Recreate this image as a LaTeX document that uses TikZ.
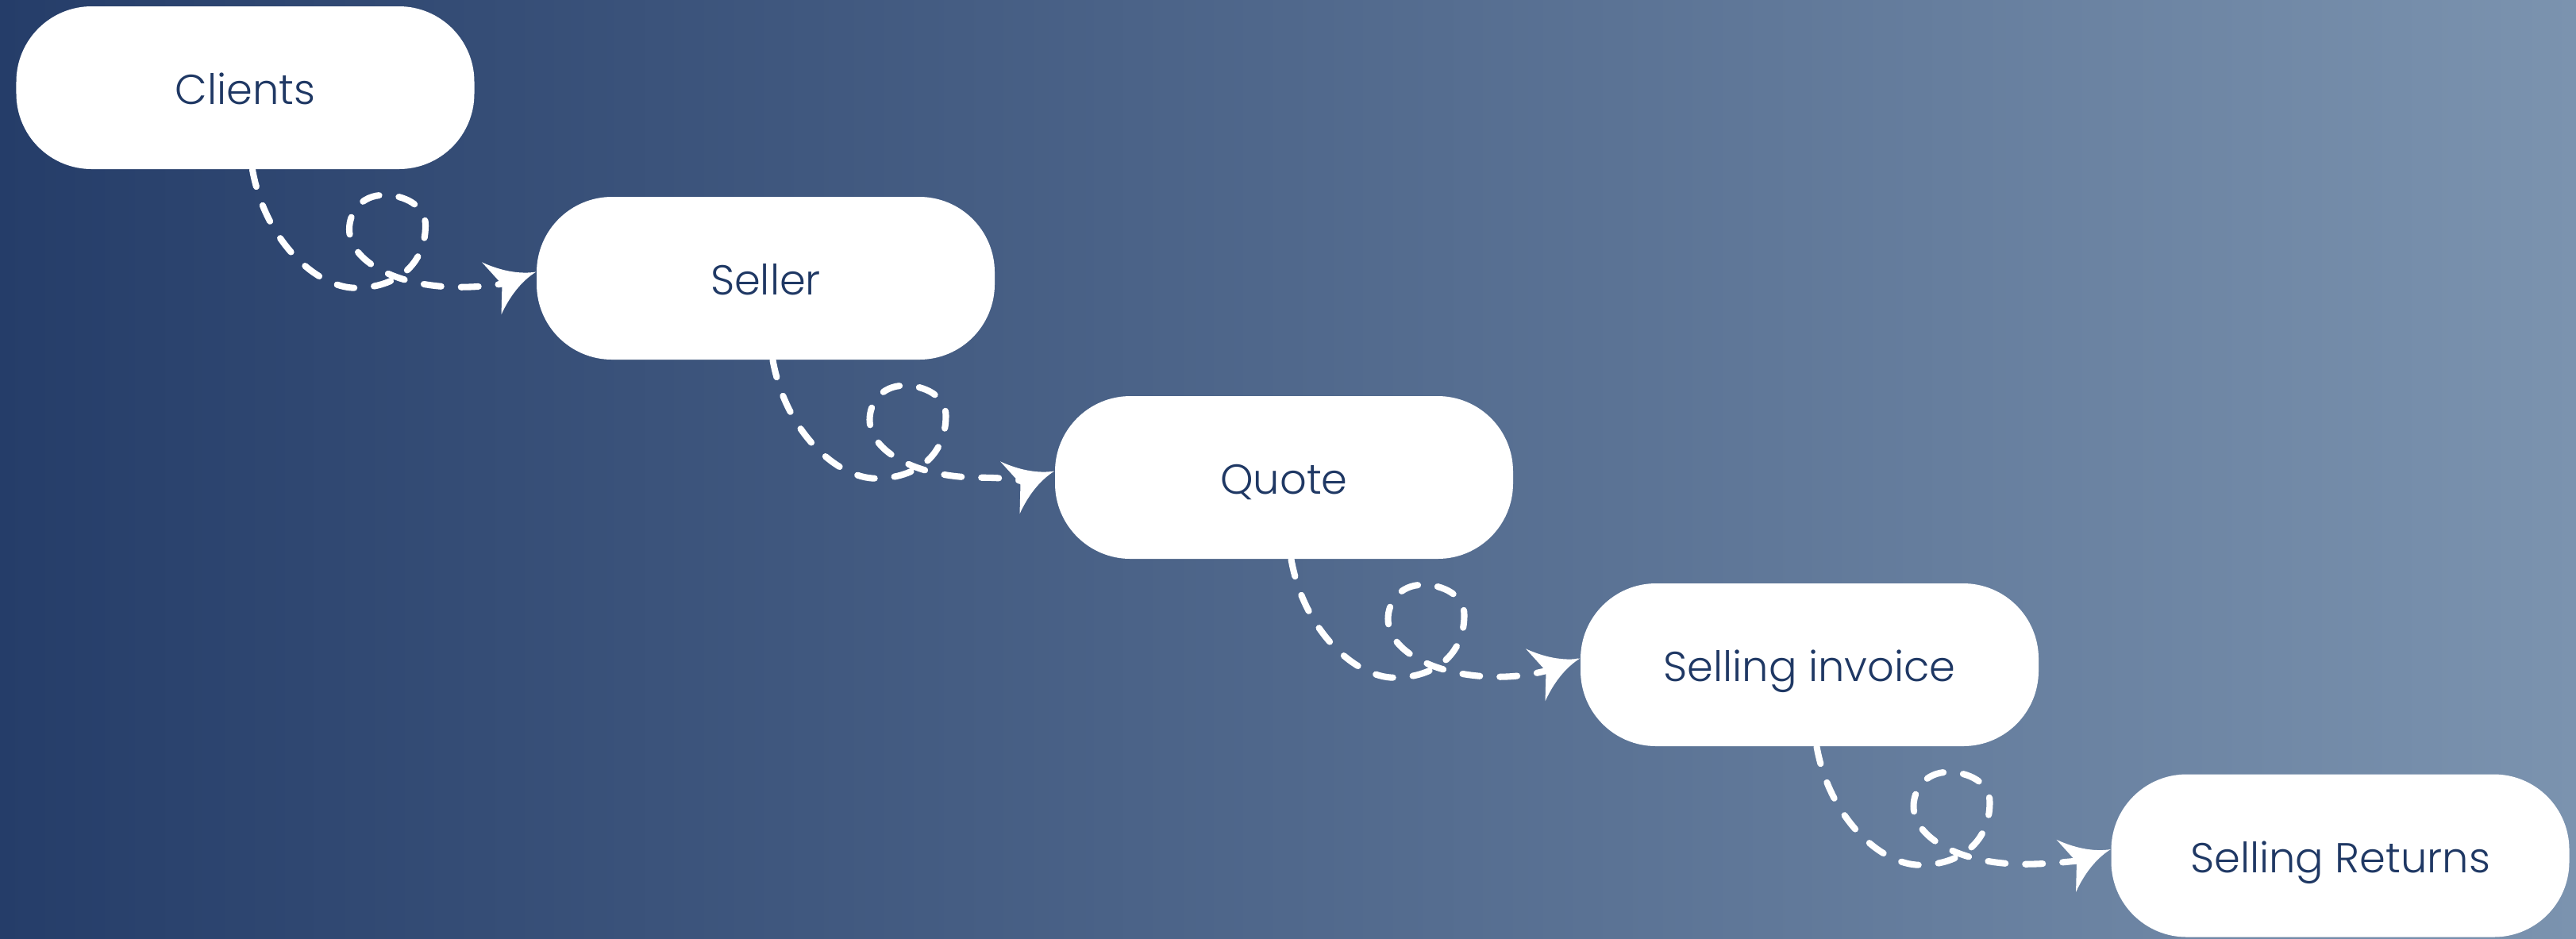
\documentclass[tikz,border=0pt]{standalone}
\usepackage{fontspec}
\setmainfont{Poppins Light}
\usepackage{tikz}
\usetikzlibrary{arrows.meta}
\usetikzlibrary{calc}
\usepackage{color}

\definecolor{BgLeft}{RGB}{37,61,105}
\definecolor{BgRight}{RGB}{123,147,175}
\definecolor{TextBlue}{RGB}{31,56,100}

% swept arrow tip with hollow sides
\pgfdeclarearrow{
  name = CurlTip,
  setup code = {
    \pgfarrowssettipend{0pt}
    \pgfarrowssetlineend{-12pt}
    \pgfarrowssetbackend{-17pt}
  },
  drawing code = {
    \pgfsetdash{}{0pt}
    \pgfpathmoveto{\pgfpoint{0pt}{0pt}}
    \pgfpathcurveto{\pgfpoint{-5pt}{1pt}}{\pgfpoint{-11pt}{4pt}}{\pgfpoint{-17pt}{10pt}}
    \pgfpathlineto{\pgfpoint{-13pt}{0pt}}
    \pgfpathlineto{\pgfpoint{-17pt}{-10pt}}
    \pgfpathcurveto{\pgfpoint{-11pt}{-4pt}}{\pgfpoint{-5pt}{-1pt}}{\pgfpoint{0pt}{0pt}}
    \pgfpathclose
    \pgfusepathqfill
  }
}

\tikzset{
  stepbox/.style={fill=white, rounded corners=0.95cm, minimum width=5.77cm, minimum height=2.05cm, inner sep=0pt, text height=12pt, text depth=0pt, text=TextBlue, font=\fontsize{15}{18}\selectfont},
  curl/.style={white, line width=2.3pt, line cap=round, dash pattern=on 0.22cm off 0.25cm, -CurlTip}
}

% dashed curl from the bottom of one box to the left side of the next
\newcommand{\curlarrow}[2]{%
  \draw[curl] ($(#1.south)+(0.09,0)$)
    .. controls +(0.16,-0.9) and +(-0.49,0) .. ++(1.30,-1.49)
    .. controls +(0.51,0) and +(0,-0.5) .. ++(0.88,0.79)
    .. controls +(0,0.25) and +(0.25,0) .. ++(-0.52,0.38)
    .. controls +(-0.30,0) and +(0,0.2) .. ++(-0.44,-0.43)
    .. controls +(0,-0.4) and +(-0.8,0) .. ++(1.39,-0.73)
    .. controls +(0.4,0) and +(-0.35,-0.13) .. ([yshift=0.08cm]#2.west);
}

\begin{document}
\begin{tikzpicture}
   		\def \PicW {32.45};
   		\def \PicH {11.82};
   		
   		\useasboundingbox (0,0) rectangle (\PicW,-\PicH);
   		\shade[left color=BgLeft, right color=BgRight] (0,0) rectangle (\PicW,-\PicH);
   		
   		\node[stepbox](clients) at (3.09,-1.105){Clients};
   		\node[stepbox](seller) at (9.645,-3.505){Seller};
   		\node[stepbox](quote) at (16.175,-6.015){Quote};
   		\node[stepbox](invoice) at (22.795,-8.375){Selling invoice};
   		\node[stepbox](returns) at (29.48,-10.78){Selling Returns};
   		
   		\curlarrow{clients}{seller}
   		\curlarrow{seller}{quote}
   		\curlarrow{quote}{invoice}
   		\curlarrow{invoice}{returns}
   		
\end{tikzpicture}
\end{document}
